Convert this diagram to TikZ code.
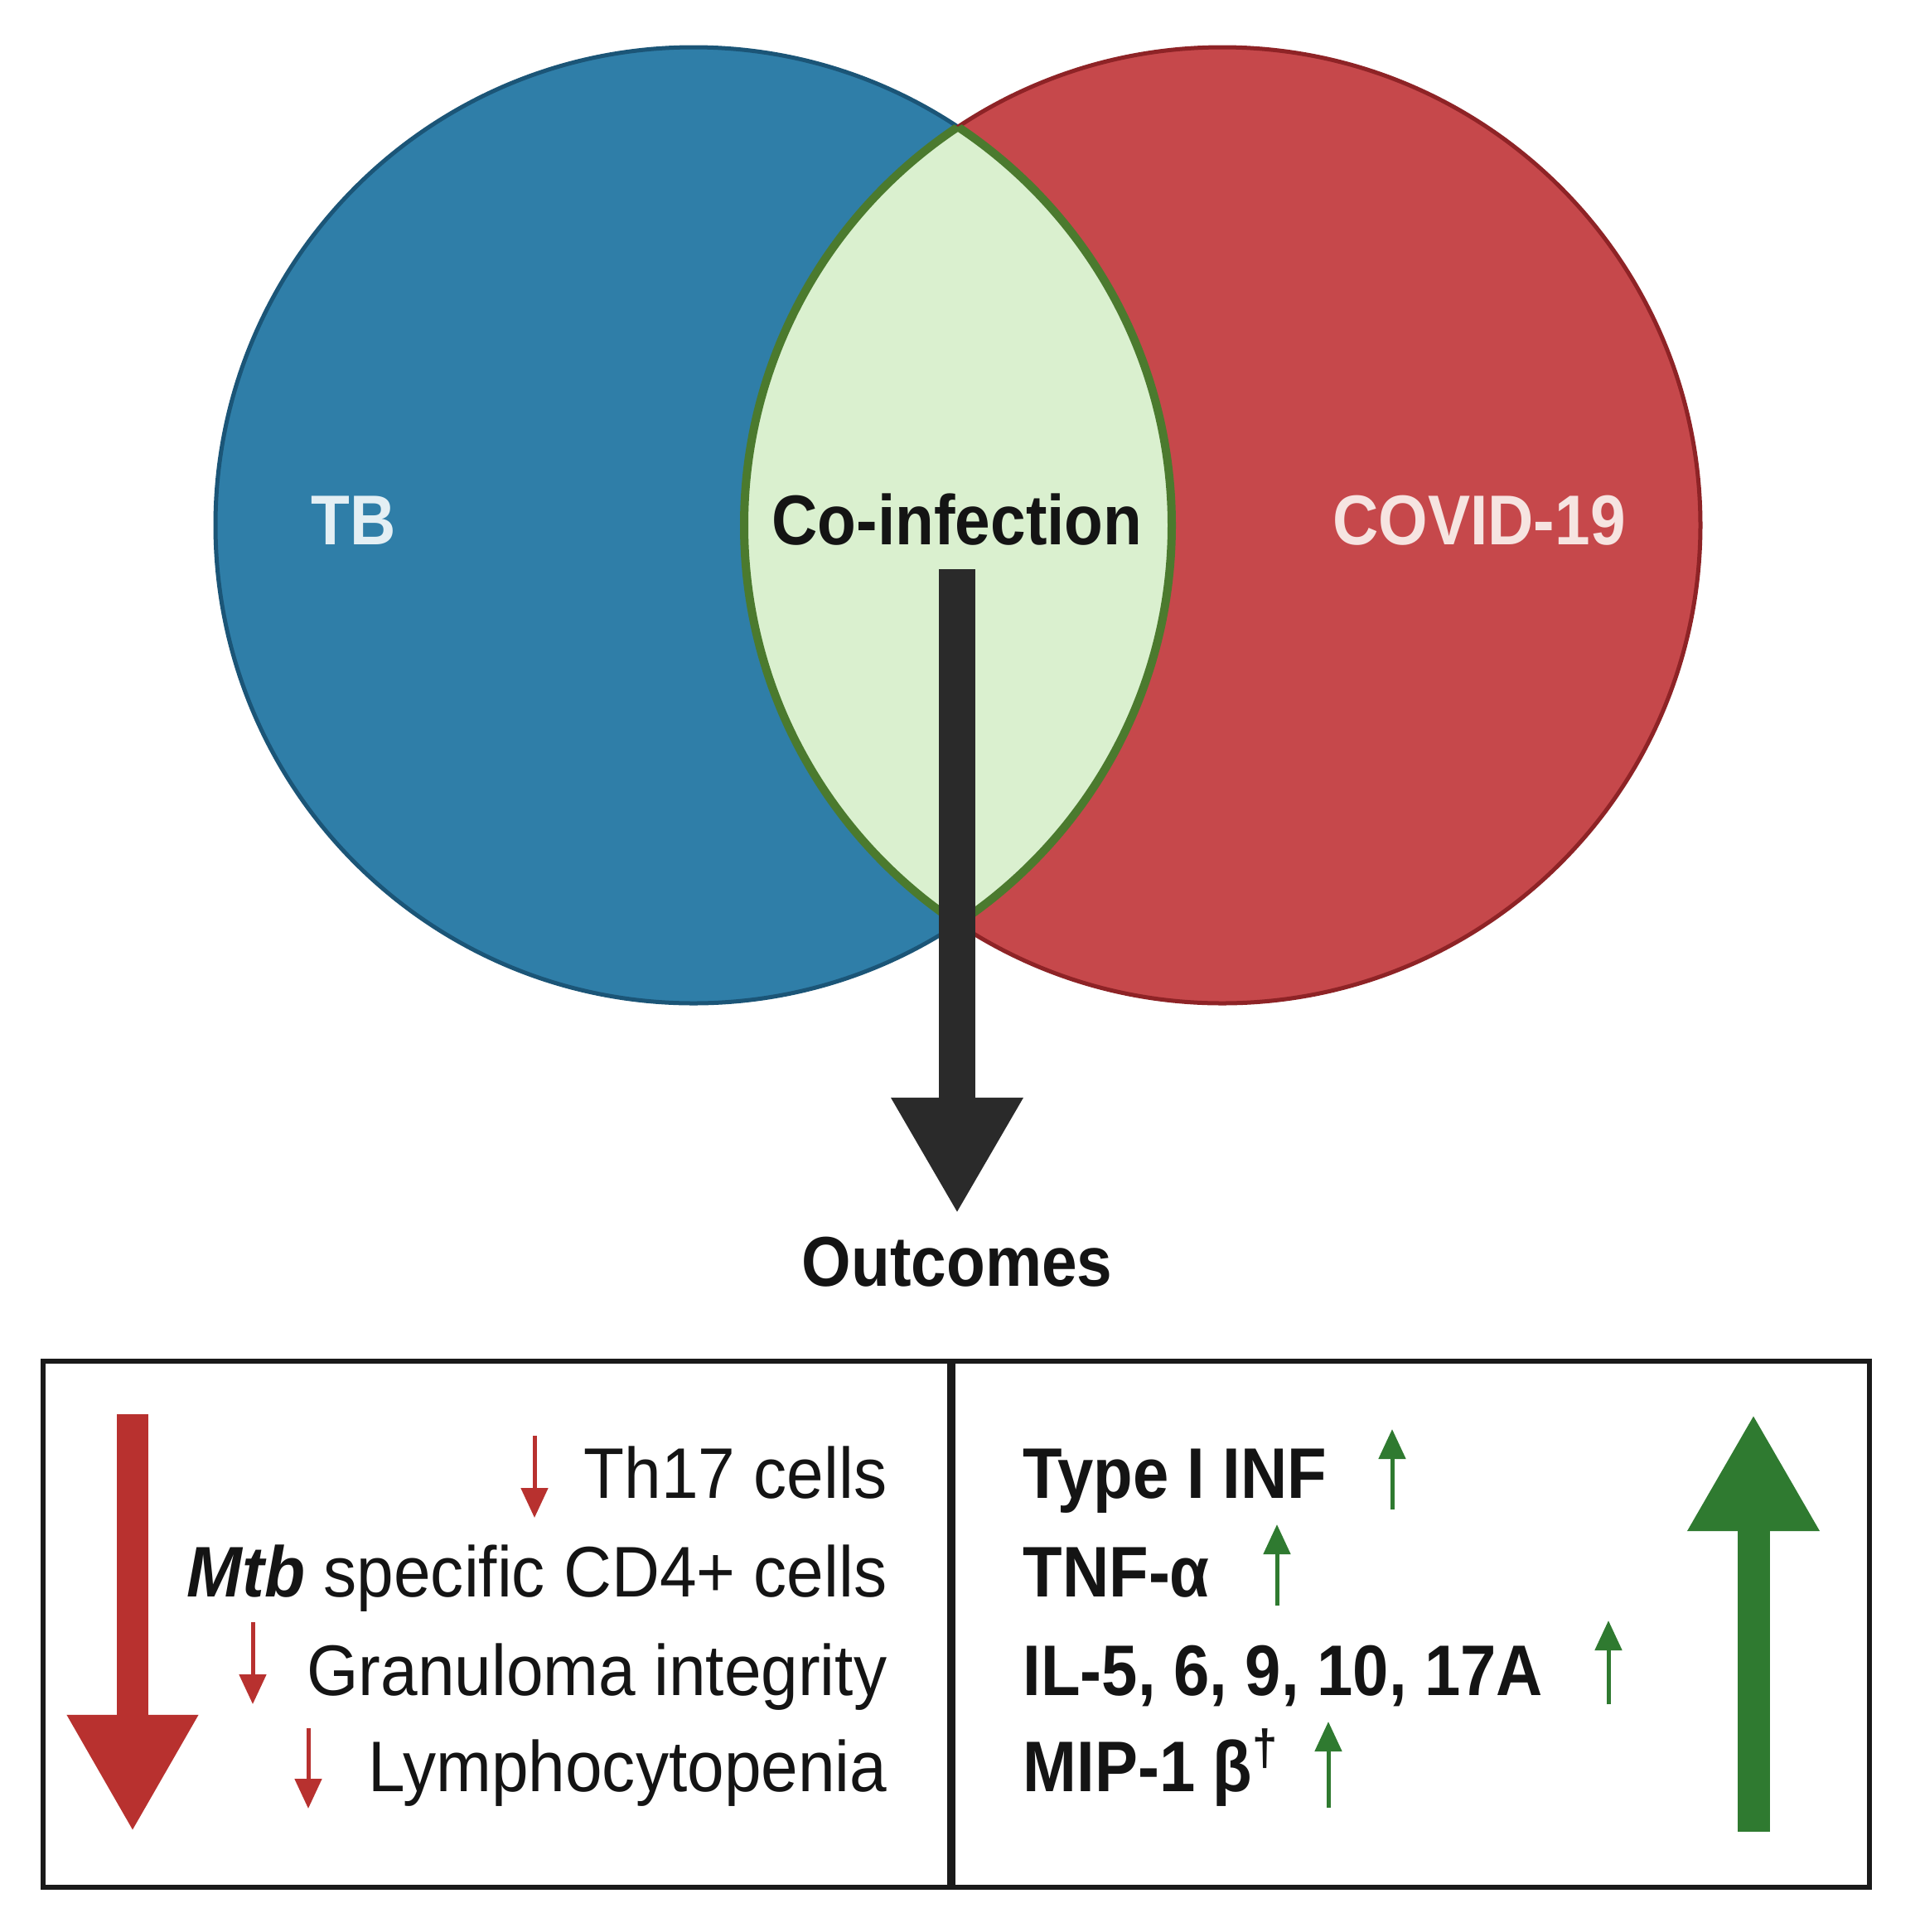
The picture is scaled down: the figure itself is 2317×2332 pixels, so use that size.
\documentclass[tikz,border=0pt]{standalone}
\usepackage{fontspec}
\setmainfont{Liberation Sans}
\newfontfamily\headfont[FakeStretch=0.90]{Liberation Sans}
\newfontfamily\lboxfont[FakeStretch=0.927]{Liberation Sans}
\newfontfamily\rboxfont[FakeStretch=0.90]{Liberation Sans}
\usetikzlibrary{arrows.meta}
\definecolor{tbblue}{HTML}{2F7EA8}
\definecolor{tbedge}{HTML}{1B5577}
\definecolor{cvred}{HTML}{C6484B}
\definecolor{cvedge}{HTML}{8E2326}
\definecolor{lensfill}{HTML}{DAF0CF}
\definecolor{lensedge}{HTML}{4B7A2E}
\definecolor{arrowblack}{HTML}{2A2A2A}
\definecolor{downred}{HTML}{B8312F}
\definecolor{upgreen}{HTML}{2F7A30}
\definecolor{boxline}{HTML}{1A1A1A}
\definecolor{tbtext}{HTML}{E4EFF4}
\definecolor{cvtext}{HTML}{F6E4E1}
\definecolor{txt}{HTML}{141414}
\tikzset{
  heading/.style={font=\headfont\fontsize{24.2pt}{27pt}\selectfont\bfseries, inner sep=0pt},
  leftitem/.style={font=\lboxfont\fontsize{24.6pt}{28pt}\selectfont, text=txt, inner sep=0pt, anchor=base east},
  rightitem/.style={font=\rboxfont\fontsize{24.6pt}{28pt}\selectfont\bfseries, text=txt, inner sep=0pt, anchor=base west},
  bigblack/.style={draw=arrowblack, line width=0.43cm, -{Triangle[width=1.49cm, length=1.40cm]}},
  bigred/.style={draw=downred, line width=0.37cm, -{Triangle[width=1.48cm, length=1.41cm]}},
  biggreen/.style={draw=upgreen, line width=0.39cm, -{Triangle[width=1.49cm, length=1.41cm]}},
  smallred/.style={draw=downred, line width=0.05cm, -{Triangle[width=0.32cm, length=0.36cm]}},
  smallgreen/.style={draw=upgreen, line width=0.05cm, -{Triangle[width=0.32cm, length=0.36cm]}},
}
\begin{document}
\begin{tikzpicture}[x={(0.01cm,0)}, y={(0,-0.01cm)}]
\useasboundingbox (0,0) rectangle (2317,2332);
\fill[white] (0,0) rectangle (2317,2332);
% circles
\coordinate (L) at (837,634);
\coordinate (R) at (1475,634);
\fill[tbblue] (L) circle (577);
\draw[tbedge, line width=0.05cm] (L) circle (577);
\fill[cvred] (R) circle (577);
\draw[cvedge, line width=0.05cm] (R) circle (577);
\begin{scope}
  \clip (L) circle (577);
  \fill[lensfill] (R) circle (577);
  \draw[lensedge, line width=0.10cm] (R) circle (577);
\end{scope}
\begin{scope}
  \clip (R) circle (577);
  \draw[lensedge, line width=0.10cm] (L) circle (577);
\end{scope}
% headings
\node[heading, text=tbtext, anchor=base] (tb) at (427,657) {TB};
\node[heading, text=cvtext, anchor=base] (covid) at (1785,657) {COVID-19};
\node[heading, text=txt, anchor=base] (coinf) at (1155,657) {Co-infection};
\node[heading, text=txt, anchor=base] (outc) at (1155,1552) {Outcomes};
\coordinate (arrstart) at (1155,687);
\coordinate (arrend) at (1155,1465);
\draw[bigblack] (arrstart) -- (arrend);
% outcome box
\draw[boxline, line width=0.06cm] (52,1643) rectangle (2256,2278);
\draw[boxline, line width=0.10cm] (1148,1643) -- (1148,2278);
% left panel
\coordinate (rd1) at (160,1707);
\coordinate (rd2) at (160,2211);
\draw[bigred] (rd1) -- (rd2);
\node[leftitem] (th17) at (1071,1808) {Th17 cells};
\node[leftitem] (mtb) at (1071,1927) {\textbf{\textit{Mtb}} specific CD4+ cells};
\node[leftitem] (gran) at (1071,2046) {Granuloma integrity};
\node[leftitem] (lymph) at (1071,2162) {Lymphocytopenia};
\coordinate (a1s) at (645,1733); \coordinate (a1e) at (645,1832);
\coordinate (a2s) at (305,1958); \coordinate (a2e) at (305,2057);
\coordinate (a3s) at (372,2086); \coordinate (a3e) at (372,2183);
\draw[smallred] (a1s) -- (a1e);
\draw[smallred] (a2s) -- (a2e);
\draw[smallred] (a3s) -- (a3e);
% right panel
\coordinate (gu1) at (2116,2211);
\coordinate (gu2) at (2116,1707);
\draw[biggreen] (gu1) -- (gu2);
\node[rightitem] (ifn) at (1234,1808) {Type I INF};
\node[rightitem] (tnf) at (1234,1927) {TNF-α};
\node[rightitem] (il) at (1234,2046) {IL-5, 6, 9, 10, 17A};
\node[rightitem] (mip) at (1234,2162) {MIP-1 β\textsuperscript{†}};
\coordinate (b1s) at (1680,1822); \coordinate (b1e) at (1680,1725);
\coordinate (b2s) at (1541,1938); \coordinate (b2e) at (1541,1840);
\coordinate (b3s) at (1941,2057); \coordinate (b3e) at (1941,1956);
\coordinate (b4s) at (1603,2182); \coordinate (b4e) at (1603,2078);
\draw[smallgreen] (b1s) -- (b1e);
\draw[smallgreen] (b2s) -- (b2e);
\draw[smallgreen] (b3s) -- (b3e);
\draw[smallgreen] (b4s) -- (b4e);
\end{tikzpicture}
\end{document}
